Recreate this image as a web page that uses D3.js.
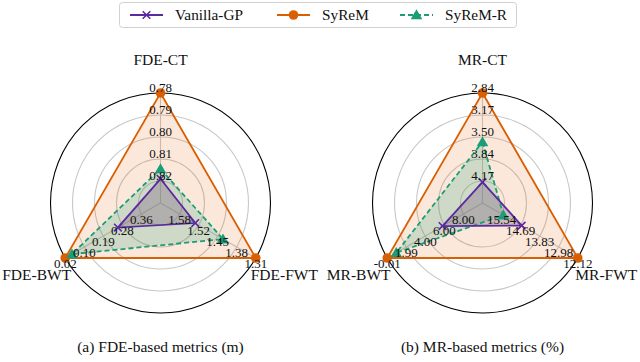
<!DOCTYPE html>
<html><head><meta charset="utf-8">
<script src="https://cdn.jsdelivr.net/npm/d3@7"></script>
<style>body{margin:0;background:#fff}svg{display:block}text{font-family:"Liberation Serif","Times New Roman",serif;fill:#111}</style>
</head><body><svg id="c" width="640" height="362"></svg>
<script>
// ---- data ----
const seriesNames = ["Vanilla-GP", "SyReM", "SyReM-R"];
const axesFDE = ["FDE-CT", "FDE-FWT", "FDE-BWT"];
const ticksFDE = [["0.82","0.81","0.80","0.79","0.78"], ["1.58","1.52","1.45","1.38","1.31"], ["0.36","0.28","0.19","0.10","0.02"]];
const domainFDE = [[0.83, 0.78], [1.65, 1.31], [0.445, 0.02]]; // [centre, outer]
const vanillaFDE = [0.819, 1.526, 0.255];
const syremFDE = [0.78, 1.31, 0.02];
const syremRFDE = [0.8145, 1.427, 0.05];

const axesMR = ["MR-CT", "MR-FWT", "MR-BWT"];
const ticksMR = [["4.17","3.84","3.50","3.17","2.84"], ["15.54","14.69","13.83","12.98","12.12"], ["8.00","6.00","4.00","1.99","-0.01"]];
const domainMR = [[4.505, 2.84], [16.40, 12.12], [10.0, -0.01]];
const vanillaMR = [4.19, 14.64, 5.8];
const syremMR = [2.84, 12.12, -0.01];
const syremRMR = [3.58, 15.46, 0.94];

const captions = ["(a) FDE-based metrics (m)", "(b) MR-based metrics (%)"];
const levels = [0.2, 0.4, 0.6, 0.8, 1.0];

// ---- style ----
const colors = ["#5a2aa0", "#d95f02", "#1b9e77"];
const fillColors = ["#7d6585", "#e8660f", "#1b9e77"];
const svg = d3.select("#c");
const R = 110;
const angles = [-90, 30, 150].map(a => a * Math.PI / 180);

function marker(sel, k, x, y) {
  if (k === 1) sel.append("circle").attr("cx", x).attr("cy", y).attr("r", 4.8).attr("fill", colors[k]);
  else if (k === 2) sel.append("path").attr("d", d3.symbol(d3.symbolTriangle, 58)()).attr("transform", `translate(${x},${y + 1})`).attr("fill", colors[k]);
  else sel.append("path").attr("d", "M-3.8,-3.8L3.8,3.8M-3.8,3.8L3.8,-3.8").attr("transform", `translate(${x},${y})`).attr("stroke", colors[k]).attr("stroke-width", 1.6);
}

function radar(cx, cy, axes, ticks, domains, series, caption) {
  const g = svg.append("g").attr("transform", `translate(${cx},${cy})`);
  const scales = domains.map(d => d3.scaleLinear().domain(d).range([0, R]));
  const lv = d3.scaleLinear().domain([0, 1]).range([0, R]);
  g.selectAll("circle.ring").data(levels.slice(0, 4)).join("circle")
    .attr("r", d => lv(d)).attr("fill", "none").attr("stroke", "#c8c8c8").attr("stroke-width", 1.1);
  g.selectAll("line.ax").data(angles).join("line")
    .attr("x1", 0).attr("y1", 0)
    .attr("x2", a => R * Math.cos(a)).attr("y2", a => R * Math.sin(a))
    .attr("stroke", "#c8c8c8").attr("stroke-width", 1.1);
  const pt = (vals) => vals.map((v, i) => [scales[i](v) * Math.cos(angles[i]), scales[i](v) * Math.sin(angles[i])]);
  const line = d3.line().curve(d3.curveLinearClosed);
  const fillOrder = [1, 2, 0];
  const fillOp = [0.35, 0.15, 0.2];
  fillOrder.forEach(k => {
    g.append("path").attr("d", line(pt(series[k]))).attr("fill", fillColors[k]).attr("fill-opacity", fillOp[k]).attr("stroke", "none");
  });
  g.append("circle").attr("r", R).attr("fill", "none").attr("stroke", "#000").attr("stroke-width", 1.1);
  fillOrder.forEach(k => {
    const p = pt(series[k]);
    g.append("path").attr("d", line(p)).attr("fill", "none").attr("stroke", colors[k])
      .attr("stroke-width", 1.8).attr("stroke-dasharray", k === 2 ? "5,3" : null);
    const m = g.append("g");
    p.forEach(([x, y]) => marker(m, k, x, y));
  });
  angles.forEach((a, i) => {
    levels.forEach((l, j) => {
      const x = lv(l) * Math.cos(a), y = lv(l) * Math.sin(a);
      g.append("text").attr("x", x).attr("y", i === 0 ? y - 1 : y + 10)
        .attr("text-anchor", "middle").attr("font-size", 13).text(ticks[i][j]);
    });
    const rr = 143;
    g.append("text").attr("x", rr * Math.cos(a)).attr("y", rr * Math.sin(a) + 5)
      .attr("text-anchor", "middle").attr("font-size", 15.5).text(axes[i]);
  });
  svg.append("text").attr("x", cx).attr("y", 352).attr("text-anchor", "middle").attr("font-size", 15.5).text(caption);
}

radar(160.5, 203, axesFDE, ticksFDE, domainFDE, [vanillaFDE, syremFDE, syremRFDE], captions[0]);
radar(482.5, 203, axesMR, ticksMR, domainMR, [vanillaMR, syremMR, syremRMR], captions[1]);

// legend
const lg = svg.append("g");
lg.append("rect").attr("x", 119.5).attr("y", 2.5).attr("width", 397).attr("height", 25).attr("rx", 3)
  .attr("fill", "#fff").attr("stroke", "#d0d0d0");
const lx = [130, 277, 400];
seriesNames.forEach((n, k) => {
  const y = 15;
  lg.append("line").attr("x1", lx[k]).attr("x2", lx[k] + 33).attr("y1", y).attr("y2", y)
    .attr("stroke", colors[k]).attr("stroke-width", 1.8).attr("stroke-dasharray", k === 2 ? "5,3" : null);
  marker(lg, k, lx[k] + 16.5, y);
  lg.append("text").attr("x", lx[k] + 45).attr("y", y + 5).attr("font-size", 15.3).text(n);
});
</script></body></html>
